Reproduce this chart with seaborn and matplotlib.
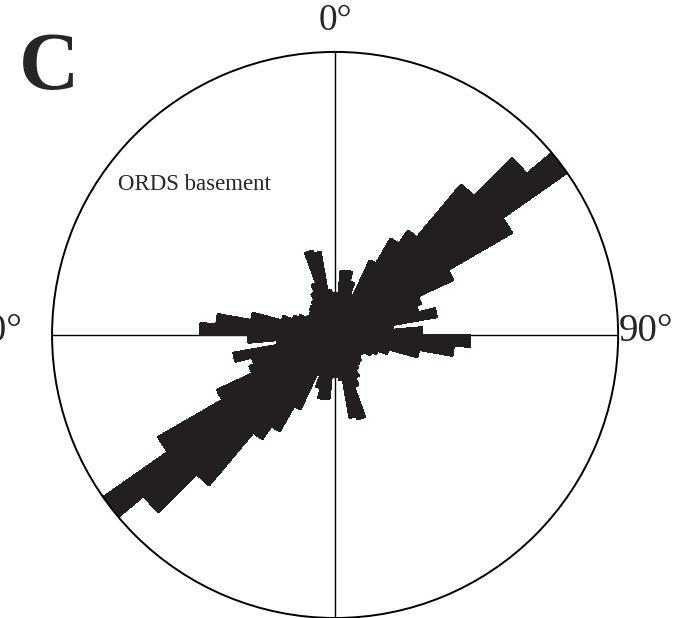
import numpy as np
import pandas as pd
import matplotlib
matplotlib.use("Agg")
import matplotlib.pyplot as plt
import seaborn as sns

# 5-degree orientation bins (axial data, mirrored through 180 degrees)
bin_start_deg = list(range(0, 180, 5))
bin_length = [42, 64, 65, 55, 43, 82, 111, 127, 196, 250, 283, 204,
              130, 91, 86, 103, 58, 87, 135, 119, 85, 55, 45, 40,
              33, 30, 33, 36, 37, 40, 47, 55, 87, 84, 45, 42]
max_length = 283
direction_labels = ["0°", "90°", "270°"]
panel_label = "C"
dataset_label = "ORDS basement"

sns.set_theme(style="white")
plt.rcParams["font.family"] = ["Liberation Serif", "DejaVu Serif"]

df = pd.DataFrame({"start": bin_start_deg, "length": bin_length})
full = pd.concat([df, df.assign(start=df["start"] + 180)], ignore_index=True)

fig = plt.figure(figsize=(6.99, 6.18), dpi=100)
ax = fig.add_axes([0.0744, 0.0, 0.81, 0.916], projection="polar")
ax.set_theta_zero_location("N")
ax.set_theta_direction(-1)

# spokes
for a in [0, 90]:
    t = np.deg2rad(a)
    ax.plot([t, t], [0, max_length], color="black", lw=1.0, zorder=1)
    ax.plot([t + np.pi, t + np.pi], [0, max_length], color="black", lw=1.0, zorder=1)

petal = "#231f20"
ax.bar(np.deg2rad(full["start"]), full["length"], width=np.deg2rad(5), bottom=0,
       align="edge", color=petal, edgecolor=petal, linewidth=1.0,
       antialiased=False, zorder=2)

ax.set_ylim(0, max_length)
ax.grid(False)
ax.set_xticks([])
ax.set_yticks([])
ax.spines["polar"].set_color("black")
ax.spines["polar"].set_linewidth(1.4)
ax.set_facecolor("white")

fig.text(335 / 699, 1 - 21 / 618, direction_labels[0], ha="center", va="center", fontsize=27)
fig.text(619 / 699, 1 - 332 / 618, direction_labels[1], ha="left", va="center", fontsize=28)
fig.text(22 / 699, 1 - 332 / 618, direction_labels[2], ha="right", va="center", fontsize=28)
fig.text(19 / 699, 1 - 70 / 618, panel_label, ha="left", va="center", fontsize=60, fontweight="bold")
fig.text(118 / 699, 1 - 185 / 618, dataset_label, ha="left", va="center", fontsize=16.5)

fig.savefig("out.png", dpi=100, facecolor="white")
